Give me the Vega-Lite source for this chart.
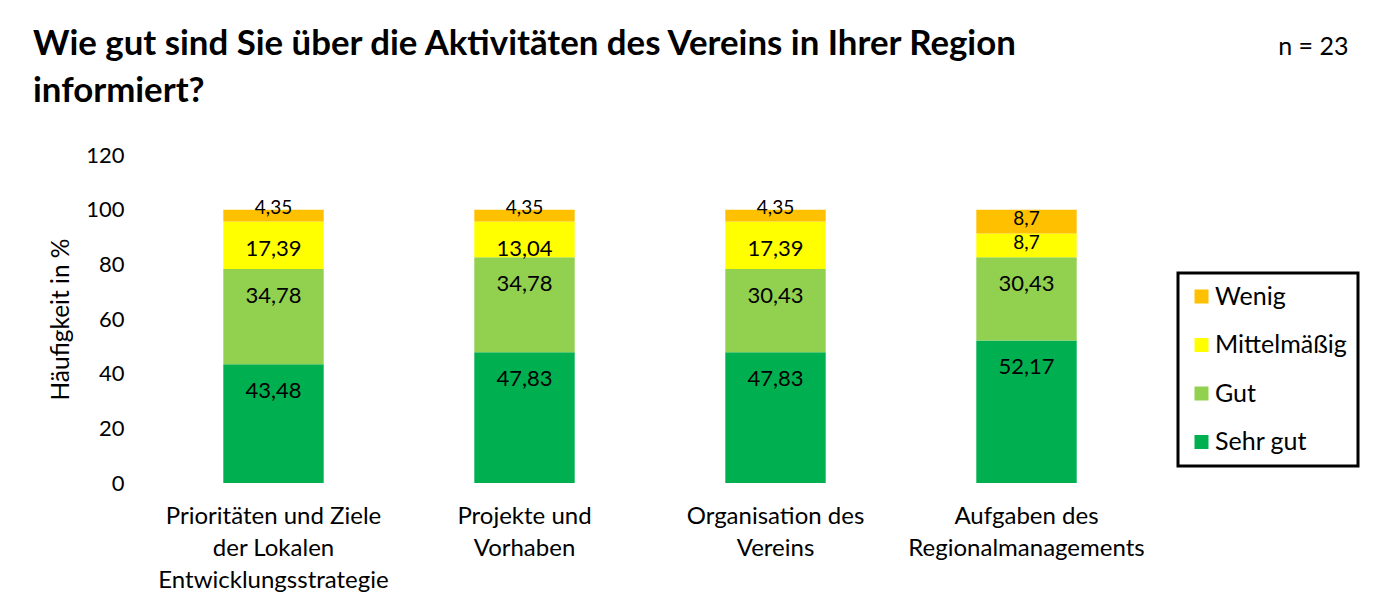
{
  "$schema": "https://vega.github.io/schema/vega-lite/v6.json",
  "width": 1004,
  "height": 328,
  "autosize": {"type": "none"},
  "padding": {"left": 148, "top": 155, "right": 222, "bottom": 124},
  "background": "white",
  "config": {
    "font": "Lato",
    "view": {"stroke": null},
    "locale": {"number": {"decimal": ",", "thousands": ".", "grouping": [3], "currency": ["", " €"]}}
  },
  "title": {
    "text": ["Wie gut sind Sie über die Aktivitäten des Vereins in Ihrer Region", "informiert?"],
    "anchor": "start",
    "frame": "group",
    "dx": -115,
    "dy": 80,
    "fontSize": 34.8,
    "fontWeight": "bold",
    "color": "black",
    "lineHeight": 47,
    "font": "Lato"
  },
  "data": {
    "values": [
      {"kategorie": "Prioritäten und Ziele der Lokalen Entwicklungsstrategie", "bewertung": "Sehr gut", "stufe": 1, "wert": 43.48},
      {"kategorie": "Prioritäten und Ziele der Lokalen Entwicklungsstrategie", "bewertung": "Gut", "stufe": 2, "wert": 34.78},
      {"kategorie": "Prioritäten und Ziele der Lokalen Entwicklungsstrategie", "bewertung": "Mittelmäßig", "stufe": 3, "wert": 17.39},
      {"kategorie": "Prioritäten und Ziele der Lokalen Entwicklungsstrategie", "bewertung": "Wenig", "stufe": 4, "wert": 4.35},
      {"kategorie": "Projekte und Vorhaben", "bewertung": "Sehr gut", "stufe": 1, "wert": 47.83},
      {"kategorie": "Projekte und Vorhaben", "bewertung": "Gut", "stufe": 2, "wert": 34.78},
      {"kategorie": "Projekte und Vorhaben", "bewertung": "Mittelmäßig", "stufe": 3, "wert": 13.04},
      {"kategorie": "Projekte und Vorhaben", "bewertung": "Wenig", "stufe": 4, "wert": 4.35},
      {"kategorie": "Organisation des Vereins", "bewertung": "Sehr gut", "stufe": 1, "wert": 47.83},
      {"kategorie": "Organisation des Vereins", "bewertung": "Gut", "stufe": 2, "wert": 30.43},
      {"kategorie": "Organisation des Vereins", "bewertung": "Mittelmäßig", "stufe": 3, "wert": 17.39},
      {"kategorie": "Organisation des Vereins", "bewertung": "Wenig", "stufe": 4, "wert": 4.35},
      {"kategorie": "Aufgaben des Regionalmanagements", "bewertung": "Sehr gut", "stufe": 1, "wert": 52.17},
      {"kategorie": "Aufgaben des Regionalmanagements", "bewertung": "Gut", "stufe": 2, "wert": 30.43},
      {"kategorie": "Aufgaben des Regionalmanagements", "bewertung": "Mittelmäßig", "stufe": 3, "wert": 8.7},
      {"kategorie": "Aufgaben des Regionalmanagements", "bewertung": "Wenig", "stufe": 4, "wert": 8.7}
    ]
  },
  "transform": [
    {"stack": "wert", "groupby": ["kategorie"], "sort": [{"field": "stufe", "order": "ascending"}], "as": ["v0", "v1"]}
  ],
  "resolve": {"axis": {"x": "independent"}},
  "layer": [
    {
      "mark": {"type": "bar"},
      "encoding": {
        "x": {
          "field": "kategorie", "type": "nominal", "sort": null,
          "scale": {"paddingInner": 0.6, "paddingOuter": 0.3},
          "axis": {
            "orient": "bottom", "title": null, "domain": false, "ticks": false,
            "labelAngle": 0, "labelFontSize": 24, "labelColor": "black", "labelPadding": 21,
            "labelBaseline": "top", "labelLineHeight": 32, "labelFont": "Lato", "labelLimit": 0,
            "labelExpr": "datum.value == 'Prioritäten und Ziele der Lokalen Entwicklungsstrategie' ? ['Prioritäten und Ziele', 'der Lokalen', 'Entwicklungsstrategie'] : datum.value == 'Projekte und Vorhaben' ? ['Projekte und', 'Vorhaben'] : datum.value == 'Organisation des Vereins' ? ['Organisation des', 'Vereins'] : ['Aufgaben des', 'Regionalmanagements']"
          }
        },
        "y": {
          "field": "v0", "type": "quantitative",
          "scale": {"domain": [0, 120], "nice": false},
          "axis": {
            "values": [0, 20, 40, 60, 80, 100, 120], "grid": false, "domain": false, "ticks": false,
            "labelFontSize": 22, "labelColor": "black", "labelPadding": 24, "labelFont": "Lato",
            "title": "Häufigkeit in %", "titleFontSize": 24.5, "titleFontWeight": "normal", "titleColor": "black",
            "titleFont": "Lato", "titleX": -87, "titleY": 164, "titleBaseline": "middle", "titleAlign": "center", "titleAngle": -90
          }
        },
        "y2": {"field": "v1"},
        "color": {
          "field": "bewertung", "type": "nominal",
          "scale": {"domain": ["Wenig", "Mittelmäßig", "Gut", "Sehr gut"], "range": ["#FFC000", "#FFFF00", "#92D050", "#00B050"]},
          "legend": {
            "title": null, "orient": "none", "legendX": 1030, "legendY": 118,
            "symbolType": "square", "symbolSize": 196, "symbolStrokeWidth": 0,
            "labelFontSize": 25, "labelColor": "black", "labelFont": "Lato", "labelOffset": 1,
            "rowPadding": 22.5, "padding": 11, "strokeColor": "black",
            "encode": {"legend": {"update": {"strokeWidth": {"value": 3}}}}
          }
        }
      }
    },
    {
      "transform": [{"filter": "datum.wert >= 10"}],
      "mark": {"type": "text", "fontSize": 22, "dy": 27, "baseline": "middle", "color": "black", "font": "Lato"},
      "encoding": {
        "x": {
          "field": "kategorie", "type": "nominal", "sort": null,
          "axis": {
            "orient": "top", "labels": false, "ticks": false, "domain": false,
            "title": "n = 23", "titleFontSize": 25, "titleFontWeight": "normal", "titleColor": "black", "titleFont": "Lato",
            "titleX": 1200, "titleY": -101, "titleAlign": "right", "titleBaseline": "alphabetic"
          }
        },
        "y": {"field": "v1", "type": "quantitative"},
        "text": {"field": "wert", "type": "quantitative", "format": ".4~r"}
      }
    },
    {
      "transform": [{"filter": "datum.wert < 10"}],
      "mark": {"type": "text", "fontSize": 19, "dy": -14, "baseline": "middle", "color": "black", "font": "Lato"},
      "encoding": {
        "x": {"field": "kategorie", "type": "nominal", "sort": null, "axis": null},
        "y": {"field": "v0", "type": "quantitative"},
        "text": {"field": "wert", "type": "quantitative", "format": ".4~r"}
      }
    }
  ]
}
